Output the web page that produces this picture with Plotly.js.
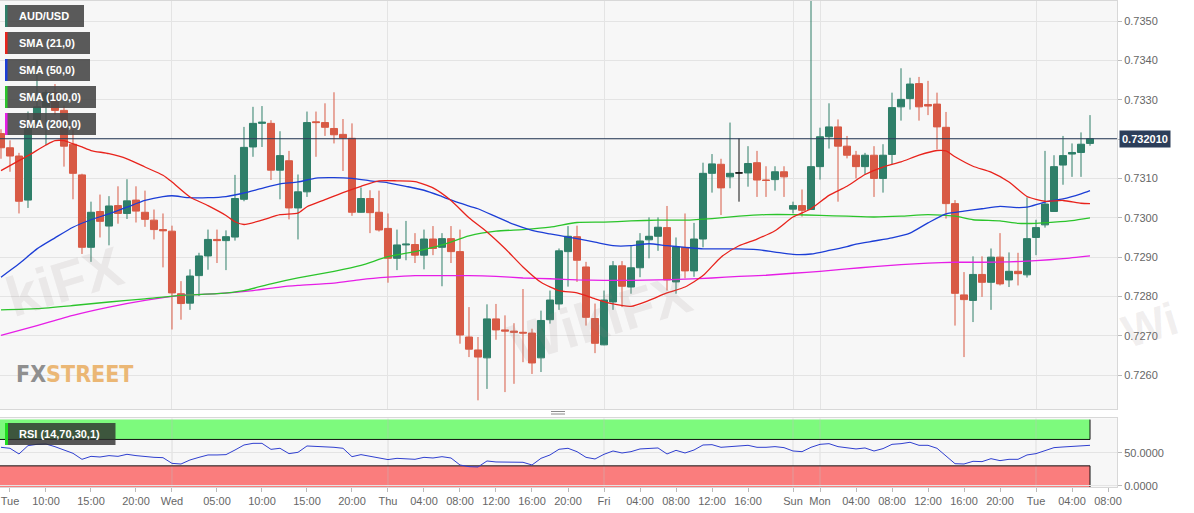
<!DOCTYPE html>
<html><head><meta charset="utf-8">
<script src="https://cdn.plot.ly/plotly-3.0.1.min.js"></script>
<style>html,body{margin:0;padding:0;background:#fff;}#chart{width:1194px;height:513px;}</style>
</head><body><div id="chart"></div>
<script>
// ---------- DATA (hourly AUD/USD candles, index = hour slot from left) ----------
const candleOpen = [
0.73214,0.73178,0.73157,0.73045,0.73240,0.73282,0.73318,0.73273,0.73187,0.73109,
0.72925,0.73016,0.72979,0.73031,0.73011,0.73045,0.73014,0.72994,0.72970,0.72966,
0.72807,0.72783,0.72853,0.72903,0.72945,0.72942,0.72951,0.73047,0.73180,0.73240,
0.73240,0.73121,0.73145,0.73025,0.73066,0.73244,0.73242,0.73227,0.73212,0.73202,
0.73014,0.73049,0.73014,0.72973,0.72897,0.72931,0.72932,0.72905,0.72946,0.72925,
0.72947,0.72914,0.72697,0.72664,0.72644,0.72743,0.72715,0.72712,0.72709,0.72707,
0.72644,0.72741,0.72781,0.72914,0.72952,0.72875,0.72744,0.72677,0.72786,0.72878,
0.72824,0.72873,0.72944,0.72953,0.72975,0.72837,0.72925,0.72865,0.72946,0.73113,
0.73136,0.73104,0.73114,0.73114,0.73140,0.73096,0.73097,0.73117,0.73022,0.73031,
0.73021,0.73130,0.73206,0.73231,0.73182,0.73159,0.73130,0.73159,0.73100,0.73161,
0.73282,0.73303,0.73341,0.73288,0.73289,0.73230,0.73036,0.72804,0.72790,0.72856,
0.72836,0.72900,0.72842,0.72864,0.72855,0.72950,0.72982,0.73016,0.73134,0.73162,
0.73166,0.73189];
const candleHigh = [
0.73225,0.73197,0.73165,0.73270,0.73400,0.73325,0.73340,0.73285,0.73223,0.73112,
0.73041,0.73059,0.73055,0.73080,0.73098,0.73080,0.73069,0.73021,0.73011,0.72980,
0.72839,0.72869,0.72911,0.72970,0.72970,0.72968,0.73109,0.73231,0.73282,0.73284,
0.73248,0.73220,0.73170,0.73110,0.73270,0.73270,0.73291,0.73319,0.73251,0.73240,
0.73077,0.73070,0.73069,0.73011,0.72970,0.72992,0.72961,0.72970,0.72979,0.72961,
0.72979,0.72970,0.72773,0.72697,0.72780,0.72781,0.72752,0.72732,0.72819,0.72718,
0.72764,0.72815,0.72922,0.72979,0.72980,0.72888,0.72782,0.72815,0.72890,0.72890,
0.72928,0.72961,0.73001,0.73001,0.73030,0.72950,0.73011,0.72987,0.73140,0.73162,
0.73150,0.73242,0.73202,0.73182,0.73170,0.73131,0.73131,0.73131,0.73041,0.73072,
0.73600,0.73229,0.73291,0.73250,0.73208,0.73170,0.73165,0.73182,0.73187,0.73318,
0.73380,0.73356,0.73358,0.73348,0.73318,0.73269,0.73045,0.72862,0.72902,0.72902,
0.72922,0.72961,0.72912,0.72911,0.73052,0.72995,0.73170,0.73159,0.73208,0.73189,
0.73217,0.73261];
const candleLow = [
0.73150,0.73117,0.73011,0.73025,0.73225,0.73185,0.73262,0.73130,0.73047,0.72908,
0.72888,0.72950,0.72930,0.72985,0.72997,0.72988,0.72977,0.72945,0.72874,0.72716,
0.72741,0.72766,0.72801,0.72868,0.72885,0.72867,0.72942,0.73042,0.73155,0.73180,
0.73096,0.73047,0.72996,0.72945,0.73053,0.73155,0.73208,0.73189,0.73119,0.73005,
0.73013,0.72961,0.72965,0.72835,0.72867,0.72892,0.72885,0.72869,0.72905,0.72826,
0.72885,0.72680,0.72646,0.72536,0.72565,0.72690,0.72557,0.72578,0.72633,0.72603,
0.72608,0.72731,0.72766,0.72825,0.72837,0.72726,0.72656,0.72676,0.72766,0.72773,
0.72807,0.72849,0.72897,0.72916,0.72815,0.72807,0.72846,0.72850,0.72925,0.73064,
0.73007,0.73075,0.73041,0.73079,0.73053,0.73053,0.73069,0.73053,0.73011,0.73003,
0.73020,0.73097,0.73176,0.73041,0.73151,0.73100,0.73110,0.73053,0.73064,0.73136,
0.73247,0.73275,0.73247,0.73261,0.73174,0.72998,0.72726,0.72646,0.72735,0.72799,
0.72766,0.72828,0.72824,0.72828,0.72848,0.72905,0.72975,0.73016,0.73084,0.73104,
0.73104,0.73183];
const candleClose = [
0.73178,0.73157,0.73042,0.73235,0.73282,0.73318,0.73273,0.73182,0.73113,0.72925,
0.73014,0.72991,0.73030,0.73011,0.73043,0.73017,0.72996,0.72970,0.72967,0.72809,
0.72782,0.72852,0.72903,0.72945,0.72942,0.72952,0.73049,0.73179,0.73240,0.73243,
0.73121,0.73158,0.73025,0.73066,0.73242,0.73242,0.73230,0.73211,0.73203,0.73014,
0.73049,0.73013,0.72969,0.72897,0.72931,0.72933,0.72905,0.72946,0.72922,0.72947,
0.72914,0.72702,0.72666,0.72646,0.72743,0.72715,0.72712,0.72709,0.72707,0.72631,
0.72739,0.72791,0.72916,0.72953,0.72892,0.72747,0.72681,0.72791,0.72878,0.72826,
0.72873,0.72941,0.72953,0.72976,0.72842,0.72926,0.72865,0.72946,0.73113,0.73137,
0.73076,0.73113,0.73114,0.73138,0.73096,0.73095,0.73117,0.73104,0.73031,0.73019,
0.73130,0.73206,0.73231,0.73182,0.73159,0.73130,0.73159,0.73100,0.73159,0.73280,
0.73301,0.73340,0.73282,0.73284,0.73231,0.73036,0.72808,0.72792,0.72856,0.72836,
0.72900,0.72832,0.72864,0.72858,0.72947,0.72975,0.73035,0.73130,0.73158,0.73166,
0.73187,0.73201];
const neutralCandles = [82]; // unchanged candle drawn in black

const sma21Idx = [0,3,5,6,7,8,9,10,12,14,16,18,19,21,23,25,26,27,29,31,33,34,36,38,40,42,44,46,48,50,52,54,56,58,60,62,64,66,68,70,72,74,76,78,80,82,84,86,88,90,92,94,96,98,100,102,104,105,106,108,110,112,114,116,118,120,121];
const sma21 = [0.73120,0.73158,0.73185,0.73196,0.73196,0.73188,0.73180,0.73171,0.73163,0.73150,0.73129,0.73108,0.73091,0.73053,0.73031,0.73006,0.72990,0.72983,0.72994,0.73008,0.73012,0.73028,0.73046,0.73064,0.73080,0.73094,0.73094,0.73092,0.73076,0.73044,0.73000,0.72964,0.72922,0.72875,0.72836,0.72815,0.72809,0.72794,0.72781,0.72775,0.72790,0.72809,0.72824,0.72853,0.72900,0.72929,0.72946,0.72967,0.73002,0.73023,0.73057,0.73080,0.73110,0.73129,0.73142,0.73159,0.73171,0.73170,0.73155,0.73131,0.73116,0.73091,0.73054,0.73042,0.73044,0.73037,0.73036];
const sma50Idx = [0,2,4,6,8,10,12,14,16,18,19,21,23,25,27,29,31,33,35,37,39,41,43,45,47,49,51,53,55,57,59,61,63,64,66,68,70,72,74,76,78,80,82,84,86,88,90,92,94,95,97,99,101,103,105,107,109,111,113,114,116,118,120,121];
const sma50 = [0.72849,0.72883,0.72921,0.72949,0.72976,0.72995,0.73010,0.73027,0.73044,0.73054,0.73056,0.73051,0.73051,0.73054,0.73063,0.73075,0.73086,0.73091,0.73101,0.73102,0.73100,0.73094,0.73089,0.73080,0.73070,0.73054,0.73037,0.73023,0.73003,0.72983,0.72968,0.72959,0.72951,0.72947,0.72938,0.72929,0.72929,0.72934,0.72929,0.72925,0.72921,0.72921,0.72921,0.72919,0.72913,0.72907,0.72908,0.72917,0.72927,0.72933,0.72941,0.72949,0.72961,0.72987,0.73010,0.73017,0.73023,0.73029,0.73026,0.73027,0.73040,0.73048,0.73061,0.73069];
const sma100Idx = [0,4,8,12,16,20,24,27,30,33,37,40,43,46,49,52,55,58,61,64,67,70,73,76,79,82,85,88,91,94,97,100,103,106,108,111,113,115,117,119,121];
const sma100 = [0.72766,0.72769,0.72777,0.72786,0.72794,0.72803,0.72807,0.72815,0.72832,0.72847,0.72864,0.72879,0.72901,0.72914,0.72931,0.72954,0.72966,0.72970,0.72976,0.72988,0.72989,0.72992,0.72994,0.72994,0.72998,0.73004,0.73008,0.73008,0.73006,0.73004,0.73002,0.73004,0.73008,0.73004,0.72995,0.72992,0.72986,0.72986,0.72989,0.72993,0.73000];
const sma200Idx = [0,4,8,12,16,20,24,28,31,33,37,40,43,46,49,52,55,58,61,64,67,70,73,76,79,82,85,88,91,94,97,100,103,106,109,112,115,118,121];
const sma200 = [0.72701,0.72726,0.72752,0.72773,0.72790,0.72803,0.72807,0.72815,0.72824,0.72828,0.72834,0.72843,0.72849,0.72853,0.72853,0.72853,0.72851,0.72847,0.72845,0.72842,0.72841,0.72841,0.72842,0.72844,0.72847,0.72851,0.72854,0.72859,0.72864,0.72870,0.72876,0.72881,0.72885,0.72887,0.72887,0.72888,0.72891,0.72896,0.72903];

const rsi = [
58.1,56.6,48.0,60.6,62.6,63.1,59.0,54.0,49.0,39.9,
44.4,43.4,45.5,44.4,47.5,45.5,43.9,42.9,42.4,33.8,
32.8,38.9,42.9,46.5,46.5,47.0,54.0,61.6,64.1,64.1,
55.0,56.6,48.5,50.5,60.1,59.6,59.1,58.1,56.6,43.9,
47.0,44.4,41.4,39.5,41.4,40.9,39.9,42.9,41.9,43.9,
41.9,31.3,28.8,28.3,37.4,35.9,35.4,35.4,35.4,31.3,
41.4,46.5,55.1,56.6,51.5,42.9,40.4,47.5,52.5,49.5,
51.5,55.6,56.1,57.1,48.0,53.5,49.5,54.0,61.6,62.1,
58.1,59.6,60.1,61.1,58.1,58.1,59.1,57.6,52.5,51.5,
58.1,62.6,63.6,59.1,57.6,55.6,57.1,52.5,56.1,62.6,
63.6,65.7,61.1,61.1,56.6,45.5,33.3,32.8,36.9,36.4,
40.9,37.9,39.9,39.9,46.5,48.5,52.5,57.6,58.6,59.1,
60.1,61.1];
const rsiOverbought = 70, rsiOversold = 30, rsiMax = 100;

const tickPositions = [1,5,10,15,19,24,29,34,39,43,47,51,55,59,63,67,71,75,79,83,88,91,95,99,103,107,111,115,119,123];
const tickLabels = ['Tue','10:00','15:00','20:00','Wed','05:00','10:00','15:00','20:00','Thu','04:00','08:00','12:00','16:00','20:00','Fri','04:00','08:00','12:00','16:00','Sun','Mon','04:00','08:00','12:00','16:00','20:00','Tue','04:00','08:00'];
const dayBoundaries = [19,43,67,88,91,115];
const priceTicks = [0.7260,0.7270,0.7280,0.7290,0.7300,0.7310,0.7320,0.7330,0.7340,0.7350];

// ---------- LAYOUT HELPERS ----------
const W = 1194, H = 513, ML = 0, MR = 77, MT = 1, MB = 26;
const plotW = W - ML - MR, plotH = H - MT - MB;
const px = x => (x - ML) / plotW;
const py = y => (H - MB - y) / plotH;
const xRange = [-0.11, 124.0];
const yRange = [0.72514, 0.73551];
const y2Range = [-2, 102];
const UP = '#2f7f69', DOWN = '#d85a45';
const C21 = '#e8231c', C50 = '#1c3ed6', C100 = '#2bc42b', C200 = '#e61ee6';

const idx = candleOpen.map((_, i) => i);
const mainIdx = idx.filter(i => !neutralCandles.includes(i));
const pick = (arr, list) => list.map(i => arr[i]);
const lastI = candleClose.length - 1;
const lastClose = candleClose[lastI];

const traces = [
  {type:'candlestick', x: mainIdx, open: pick(candleOpen, mainIdx), high: pick(candleHigh, mainIdx),
   low: pick(candleLow, mainIdx), close: pick(candleClose, mainIdx), xaxis:'x', yaxis:'y',
   increasing:{line:{color:UP, width:1}, fillcolor:UP}, decreasing:{line:{color:DOWN, width:1}, fillcolor:DOWN},
   whiskerwidth:0, showlegend:false, hoverinfo:'skip'},
  {type:'candlestick', x: neutralCandles, open: pick(candleOpen, neutralCandles), high: pick(candleHigh, neutralCandles),
   low: pick(candleLow, neutralCandles), close: pick(candleClose, neutralCandles), xaxis:'x', yaxis:'y',
   increasing:{line:{color:'#111', width:1}, fillcolor:'#111'}, decreasing:{line:{color:'#111', width:1}, fillcolor:'#111'},
   whiskerwidth:0, showlegend:false, hoverinfo:'skip'},
  {type:'scatter', mode:'lines', x: sma200Idx, y: sma200, line:{color:C200, width:1.3, shape:'spline', smoothing:0.6}, xaxis:'x', yaxis:'y', showlegend:false, hoverinfo:'skip'},
  {type:'scatter', mode:'lines', x: sma100Idx, y: sma100, line:{color:C100, width:1.3, shape:'spline', smoothing:0.6}, xaxis:'x', yaxis:'y', showlegend:false, hoverinfo:'skip'},
  {type:'scatter', mode:'lines', x: sma50Idx, y: sma50, line:{color:C50, width:1.3, shape:'spline', smoothing:0.6}, xaxis:'x', yaxis:'y', showlegend:false, hoverinfo:'skip'},
  {type:'scatter', mode:'lines', x: sma21Idx, y: sma21, line:{color:C21, width:1.3, shape:'spline', smoothing:0.6}, xaxis:'x', yaxis:'y', showlegend:false, hoverinfo:'skip'},
  {type:'scatter', mode:'lines', x: idx, y: rsi, line:{color:'#2f3fcf', width:1}, xaxis:'x2', yaxis:'y2', showlegend:false, hoverinfo:'skip'}
];

const shapes = [];
// RSI zones
shapes.push({type:'rect', xref:'x2', yref:'y2', x0:xRange[0], x1:lastI, y0:rsiOverbought, y1:rsiMax, fillcolor:'#7dfa7d', line:{width:0}, layer:'below'});
shapes.push({type:'rect', xref:'x2', yref:'y2', x0:xRange[0], x1:lastI, y0:y2Range[0], y1:rsiOversold, fillcolor:'#fa7d7d', line:{width:0}, layer:'below'});
dayBoundaries.forEach(d => shapes.push({type:'line', xref:'x2', yref:'y2', x0:d, x1:d, y0:y2Range[0], y1:y2Range[1], line:{color:'rgba(190,190,190,0.45)', width:1}, layer:'below'}));
[rsiOverbought, rsiOversold].forEach(v => shapes.push({type:'line', xref:'x2', yref:'y2', x0:xRange[0], x1:lastI, y0:v, y1:v, line:{color:'#111', width:1}, layer:'below'}));
shapes.push({type:'line', xref:'x2', yref:'y2', x0:lastI, x1:lastI, y0:rsiOverbought, y1:rsiMax, line:{color:'#111', width:1}, layer:'below'});
shapes.push({type:'line', xref:'x2', yref:'y2', x0:lastI, x1:lastI, y0:y2Range[0], y1:rsiOversold, line:{color:'#111', width:1}, layer:'below'});
// current price line
shapes.push({type:'line', xref:'paper', yref:'y', x0:0, x1:1, y0:lastClose, y1:lastClose, line:{color:'#2c3e5a', width:1}, layer:'above'});
// legend boxes
const legendItems = [
  {label:'AUD/USD', color:UP, top:5, bottom:27, right:84},
  {label:'SMA (21,0)', color:C21, top:32, bottom:54, right:90},
  {label:'SMA (50,0)', color:C50, top:59, bottom:81, right:90},
  {label:'SMA (100,0)', color:C100, top:86, bottom:108, right:96},
  {label:'SMA (200,0)', color:C200, top:113, bottom:135, right:96}
];
const annotations = [];
legendItems.forEach(it => {
  shapes.push({type:'rect', xref:'paper', yref:'paper', x0:px(5), x1:px(it.right), y0:py(it.bottom), y1:py(it.top), fillcolor:'rgba(72,72,72,0.9)', line:{width:0}, layer:'above'});
  shapes.push({type:'rect', xref:'paper', yref:'paper', x0:px(5), x1:px(7.5), y0:py(it.bottom), y1:py(it.top), fillcolor:it.color, line:{width:0}, layer:'above'});
  annotations.push({xref:'paper', yref:'paper', x:px(17), y:py((it.top+it.bottom)/2), xanchor:'left', yanchor:'middle', showarrow:false, text:'<b>'+it.label+'</b>', font:{size:11, color:'#ffffff', family:'Liberation Sans, Arial, sans-serif'}});
});
// RSI legend
shapes.push({type:'rect', xref:'paper', yref:'paper', x0:px(5), x1:px(115.5), y0:py(445), y1:py(423), fillcolor:'rgba(45,45,45,0.8)', line:{width:0}, layer:'above'});
shapes.push({type:'rect', xref:'paper', yref:'paper', x0:px(5), x1:px(8), y0:py(445), y1:py(423), fillcolor:'#22dd22', line:{width:0}, layer:'above'});
annotations.push({xref:'paper', yref:'paper', x:px(17), y:py(434), xanchor:'left', yanchor:'middle', showarrow:false, text:'<b>RSI (14,70,30,1)</b>', font:{size:11, color:'#ffffff', family:'Liberation Sans, Arial, sans-serif'}});
// panel resize handle
[411.5, 414].forEach(yy => shapes.push({type:'line', xref:'paper', yref:'paper', x0:px(551), x1:px(565), y0:py(yy), y1:py(yy), line:{color:'#8a8a8a', width:1}}));
// price tag (covers the 0.7320 axis label, as in the source)
annotations.push({xref:'paper', yref:'y', x:px(1119), y:lastClose, xanchor:'left', yanchor:'middle', showarrow:false,
  text:'<b>'+lastClose.toFixed(6)+'</b>', bgcolor:'#2c3e5a', borderpad:2, font:{size:11, color:'#ffffff', family:'Liberation Sans, Arial, sans-serif'}});
// brand logo
annotations.push({xref:'paper', yref:'paper', x:px(14), y:py(374), xanchor:'left', yanchor:'middle', showarrow:false,
  text:'<b><span style="color:#8f8f8f">FX</span><span style="color:#ebb775">STREET</span></b>',
  font:{size:23, family:'Liberation Sans Narrow, DejaVu Sans Condensed, Arial Narrow, sans-serif'}});
// faint watermarks
[['kiFX', 64, 281, 56], ['WikiFX', 600, 318, 56], ['Wi', 1150, 325, 46]].forEach(p => annotations.push({xref:'paper', yref:'paper', x:px(p[1]), y:py(p[2]), xanchor:'center', yanchor:'middle', showarrow:false,
  text:'<b>'+p[0]+'</b>', textangle:-17, font:{size:p[3], color:'rgba(150,130,130,0.13)', family:'Liberation Sans, Arial, sans-serif'}}));

const axisLine = '#d8d8d8', grid = '#e4e4e4', tickFont = {size:11, color:'#666', family:'Liberation Sans, Arial, sans-serif'};
const layout = {
  width:W, height:H, margin:{l:ML, r:MR, t:MT, b:MB, autoexpand:false},
  paper_bgcolor:'#ffffff', plot_bgcolor:'#f7f7f7', showlegend:false,
  boxgap:0.22, boxgroupgap:0,
  xaxis:{domain:[0,1], anchor:'y', range:xRange, tickvals:dayBoundaries, showticklabels:false, ticks:'',
    showgrid:true, gridcolor:grid, zeroline:false, showline:true, mirror:true, linecolor:axisLine, rangeslider:{visible:false}, fixedrange:true},
  yaxis:{domain:[py(409), 1], anchor:'x', side:'right', range:yRange, tickvals:priceTicks,
    ticktext:priceTicks.map(v => Math.abs(v - lastClose) < 0.0003 ? '' : v.toFixed(4)),
    ticks:'outside', ticklen:4, tickcolor:'#bbbbbb', showgrid:true, gridcolor:grid, zeroline:false, showline:true, mirror:true, linecolor:axisLine, tickfont:tickFont},
  xaxis2:{domain:[0,1], anchor:'y2', matches:'x', range:xRange, tickvals:tickPositions, ticktext:tickLabels, ticks:'outside', ticklen:4, tickcolor:'#bbbbbb',
    showgrid:false, zeroline:false, showline:true, mirror:true, linecolor:axisLine, tickfont:tickFont},
  yaxis2:{domain:[0, py(418.3)], anchor:'x2', side:'right', range:y2Range, tickvals:[0,50], ticktext:['0.0000','50.0000'],
    ticks:'outside', ticklen:4, tickcolor:'#bbbbbb', showgrid:true, gridcolor:grid, zeroline:false, showline:true, mirror:true, linecolor:axisLine, tickfont:tickFont},
  shapes:shapes, annotations:annotations
};
Plotly.newPlot('chart', traces, layout, {displayModeBar:false, staticPlot:true});
</script>
</body></html>
